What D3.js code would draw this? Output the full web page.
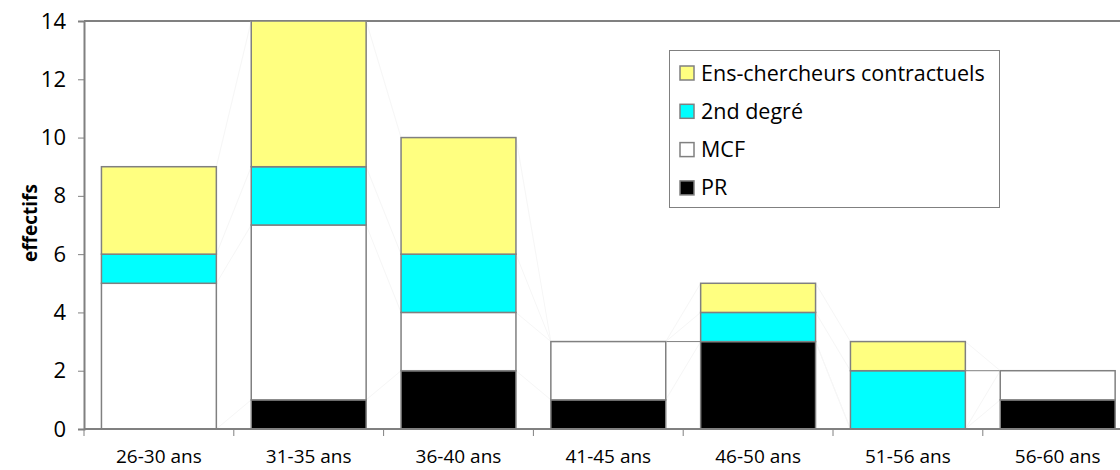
<!DOCTYPE html>
<html><head><meta charset="utf-8">
<script src="https://cdn.jsdelivr.net/npm/d3@7"></script>
<style>body{margin:0;background:#fff}svg{display:block}text{font-family:"Open Sans",sans-serif;fill:#000}</style>
</head><body><svg id="c" width="1120" height="470"></svg>
<script>
const categories = ["26-30 ans","31-35 ans","36-40 ans","41-45 ans","46-50 ans","51-56 ans","56-60 ans"];
const seriesNames = ["PR","MCF","2nd degré","Ens-chercheurs contractuels"];
const PR = [0,1,2,1,3,0,1];
const MCF = [5,6,2,2,0,0,1];
const second = [1,2,2,0,1,2,0];
const ens = [3,5,4,0,1,1,0];
const yTicks = [0,2,4,6,8,10,12,14];
const colors = ["#000000","#ffffff","#00ffff","#ffff80"];
const legendOrder = [3,2,1,0];

const svg = d3.select("#c");
const L=84, T=21, B=429, slot=149.8;
const x = d3.scaleBand().domain(categories).range([L, L+slot*categories.length]).paddingInner(0.233).paddingOuter(0.1165);
const xo = d3.scaleBand().domain(categories).range([L, L+slot*categories.length]);
const y = d3.scaleLinear().domain([0,14]).range([B,T]);

const table = categories.map((c,i)=>({cat:c, s0:PR[i], s1:MCF[i], s2:second[i], s3:ens[i]}));
const stack = d3.stack().keys(["s0","s1","s2","s3"])(table);

// top border
svg.append("line").attr("x1",L).attr("x2",1120).attr("y1",T).attr("y2",T).attr("stroke","#808080").attr("stroke-width",2);

// series lines
stack.forEach((s,k)=>{
  for(let i=0;i<s.length-1;i++){
    const a=s[i][1], b=s[i+1][1];
    svg.append("line")
      .attr("x1",x(categories[i])+x.bandwidth()).attr("y1",y(a))
      .attr("x2",x(categories[i+1])).attr("y2",y(b))
      .attr("stroke", a===b?"#808080":"#f6f6f6").attr("stroke-width",1);
  }
});

// bars
stack.forEach((s,k)=>{
  svg.append("g").selectAll("rect").data(s.filter(d=>d[1]>d[0])).join("rect")
    .attr("x",d=>x(d.data.cat)).attr("width",x.bandwidth())
    .attr("y",d=>y(d[1])).attr("height",d=>y(d[0])-y(d[1]))
    .attr("fill",colors[k]).attr("stroke","#808080").attr("stroke-width",1.5);
});

// y axis
const ya = svg.append("g").attr("transform",`translate(${L},0)`)
  .call(d3.axisLeft(y).tickValues(yTicks).tickSize(6).tickPadding(12));
ya.select(".domain").attr("stroke","#808080").attr("stroke-width",2);
ya.selectAll(".tick line").attr("stroke","#808080");
ya.selectAll("text").style("font-size","22px").style("font-family","'Open Sans',sans-serif").attr("fill","#000");

// x axis
const xa = svg.append("g").attr("transform",`translate(0,${B})`);
xa.append("line").attr("x1",L).attr("x2",1120).attr("stroke","#808080").attr("stroke-width",2);
xa.selectAll(".tk").data(categories).join("line")
  .attr("x1",d=>xo(d)).attr("x2",d=>xo(d)).attr("y1",0).attr("y2",7).attr("stroke","#808080");
xa.selectAll("text").data(categories).join("text")
  .attr("x",d=>x(d)+x.bandwidth()/2).attr("y",34).attr("text-anchor","middle")
  .style("font-size","19px").text(d=>d);

// y title
svg.append("text").attr("transform","translate(37,223) rotate(-90)").attr("text-anchor","middle")
  .style("font-size","19px").style("font-weight","bold").text("effectifs");

// legend
const lg = svg.append("g");
lg.append("rect").attr("x",669.5).attr("y",50.5).attr("width",330).attr("height",157)
  .attr("fill","#fff").attr("stroke","#808080").attr("stroke-width",1);
legendOrder.forEach((k,j)=>{
  const cy = 73 + j*38.3;
  lg.append("rect").attr("x",680).attr("y",cy-7).attr("width",14).attr("height",14)
    .attr("fill",colors[k]).attr("stroke","#808080").attr("stroke-width",1.5);
  lg.append("text").attr("x",701).attr("y",cy+7.5).style("font-size","21.5px").text(seriesNames[k]);
});
</script></body></html>
